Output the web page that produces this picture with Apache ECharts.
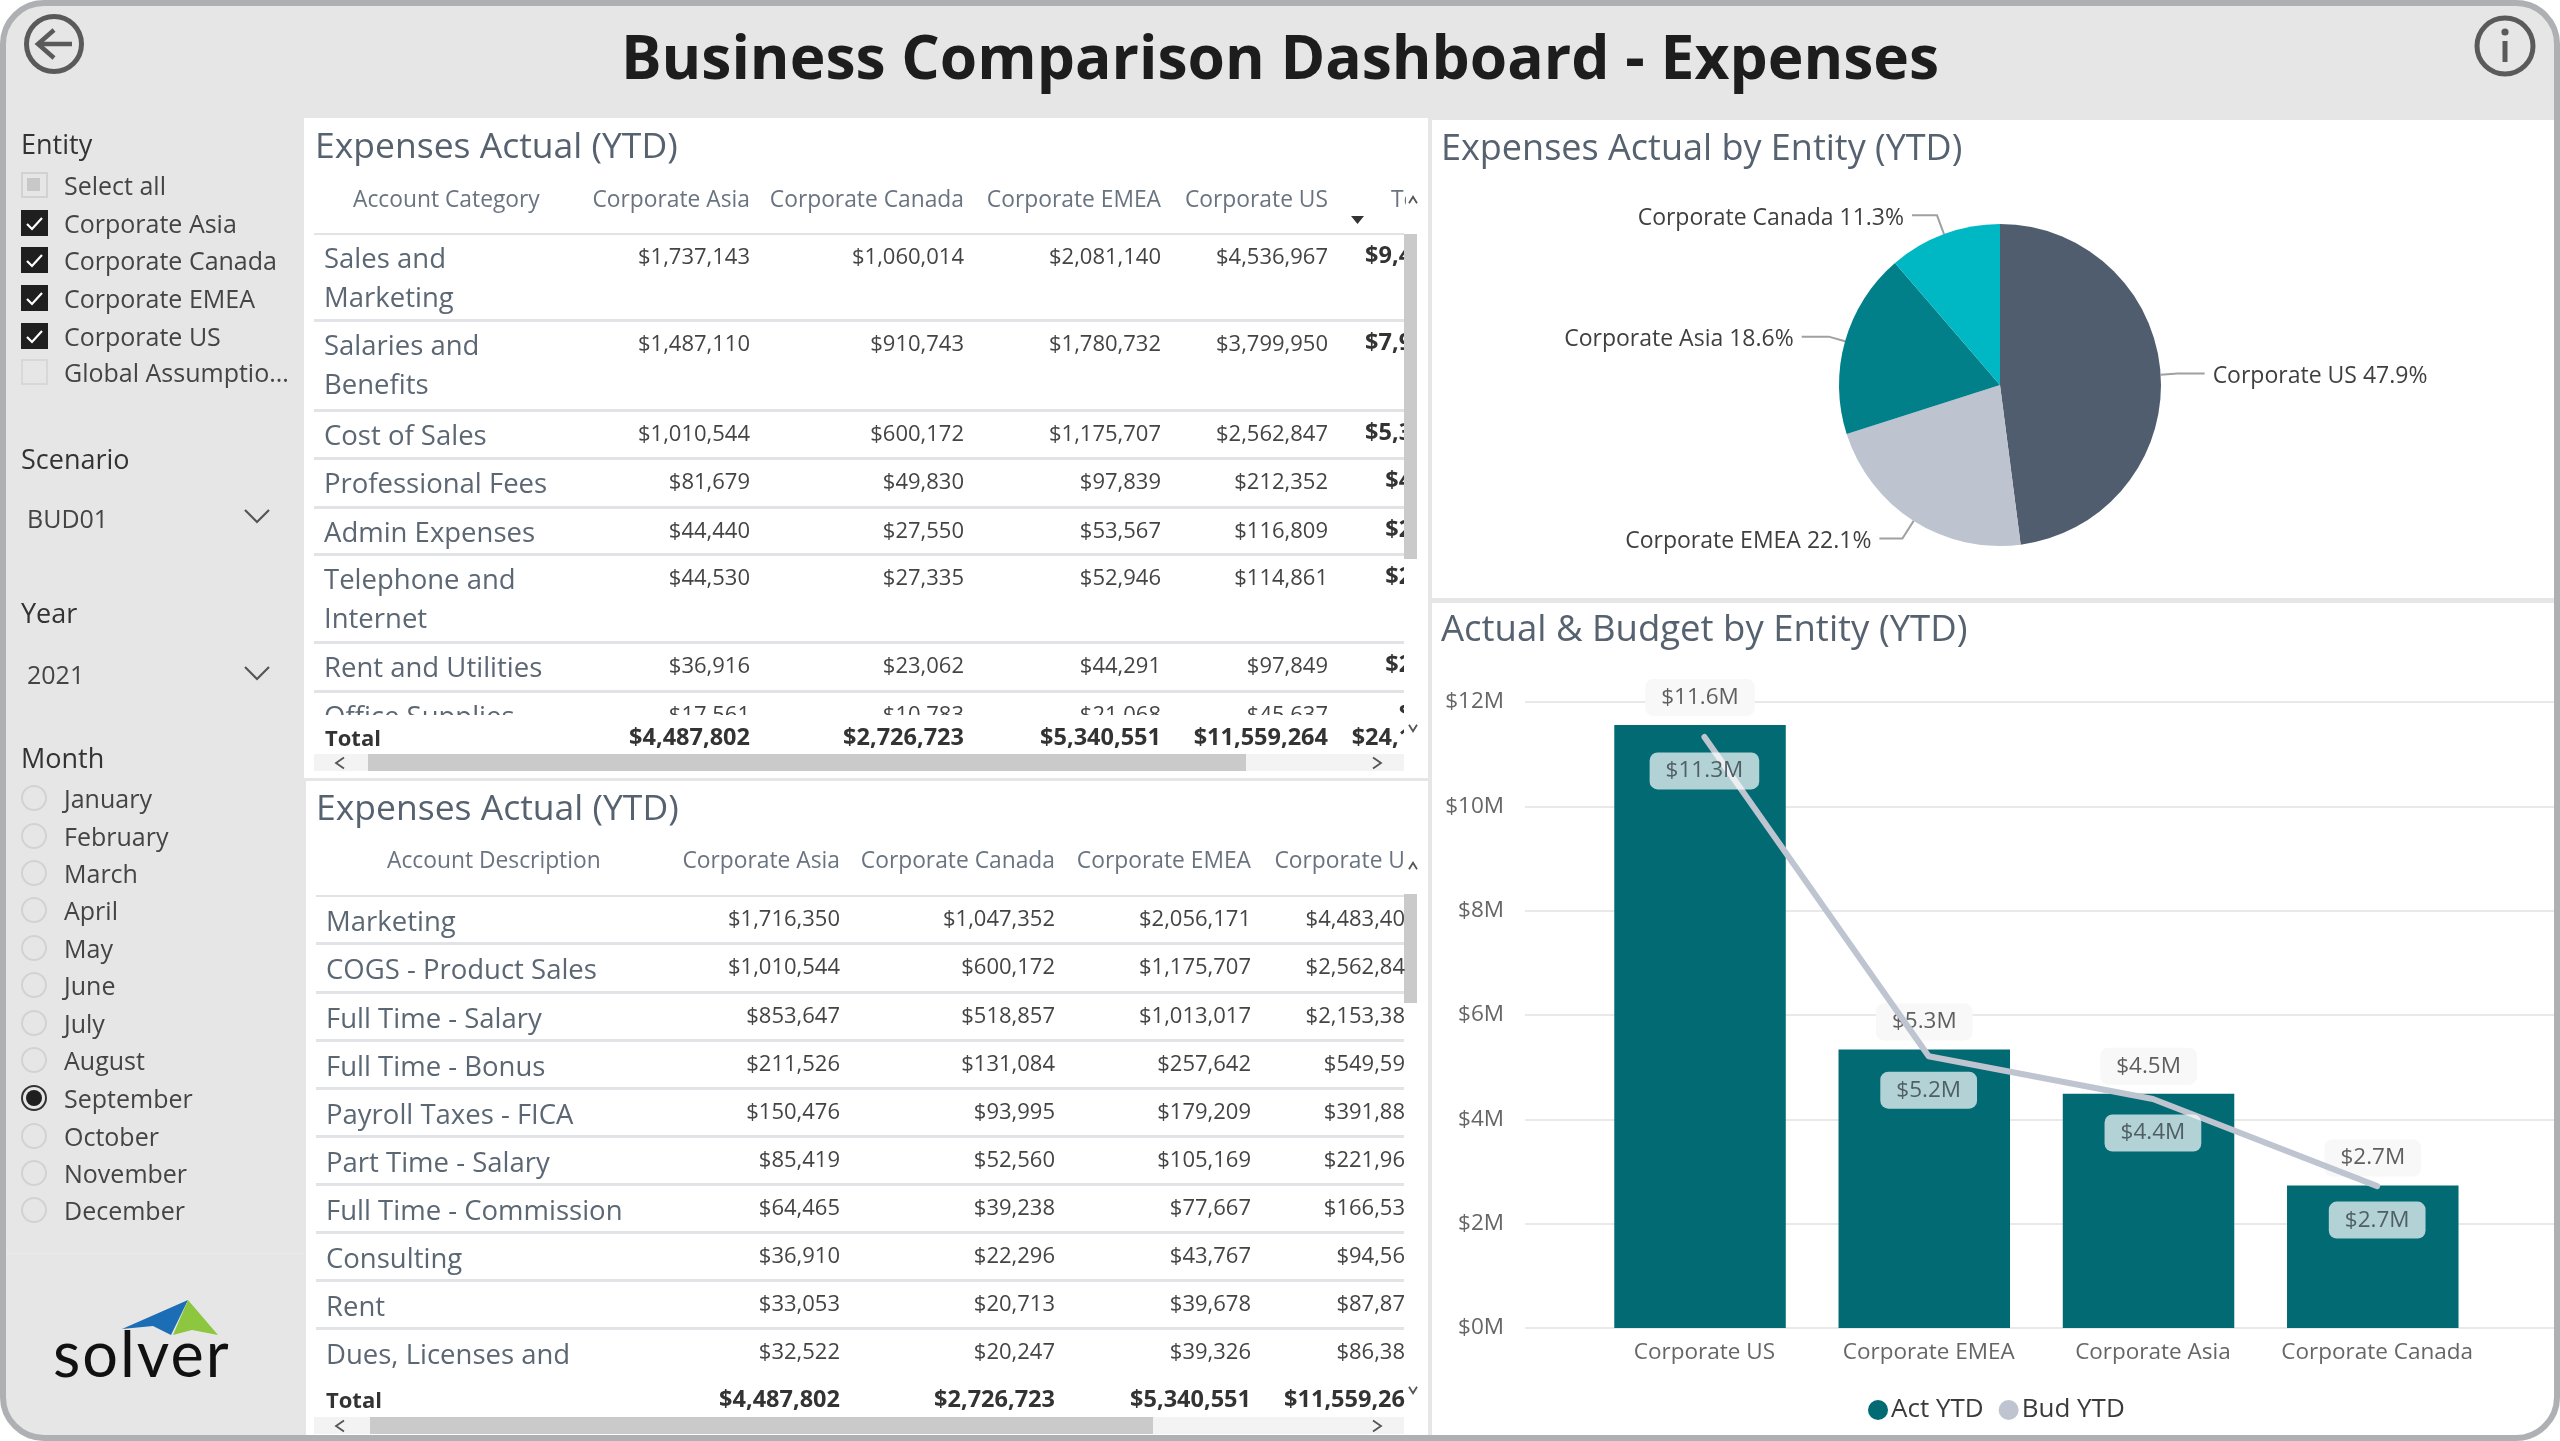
<!DOCTYPE html>
<html>
<head>
<meta charset="utf-8">
<title>Business Comparison Dashboard - Expenses</title>
<script src="https://cdn.jsdelivr.net/npm/echarts@6/dist/echarts.min.js"></script>
<style>
html, body { margin: 0; padding: 0; width: 2560px; height: 1441px; overflow: hidden; background: #fff; }
body, div { font-family: "Open Sans", "Noto Sans", sans-serif; }
#page { position: absolute; left: 0; top: 0; width: 2560px; height: 1441px; background: #e6e6e6; overflow: hidden; }
.panel { position: absolute; background: #fff; }
.layer { position: absolute; left: 0; top: 0; width: 2560px; height: 1441px; }
.t { position: absolute; white-space: pre; line-height: 1; transform: translateY(-50%); }
.r { transform: translate(-100%, -50%); }
.box { position: absolute; }
.side { color: #444; font-size: 25px; }
.head { color: #333; font-size: 27px; }
.ptitle { color: #56626f; font-size: 35.5px; }
.colh { color: #6a7480; font-size: 22.8px; }
.lab { color: #5c6774; font-size: 27.5px; }
.val { color: #444; font-size: 22px; }
.tot { color: #333; font-size: 23.5px; font-weight: 700; }
#frame { position: absolute; left: 0; top: 0; width: 2548px; height: 1429px; border: 6px solid #aeb0b4; border-radius: 44px; box-shadow: 0 0 0 60px #fff; pointer-events: none; }
svg { position: absolute; left: 0; top: 0; }
</style>
</head>
<body>
<div id="page">
  <div class="panel" style="left:304px;top:118px;width:1124px;height:660px"></div>
  <div class="panel" style="left:306px;top:781px;width:1122px;height:655px"></div>
  <div class="panel" style="left:1432px;top:120px;width:1122px;height:478px"></div>
  <div class="panel" style="left:1432px;top:603px;width:1122px;height:832px"></div>
  <div id="pieChart" style="position:absolute;left:1432px;top:120px;width:1122px;height:478px"></div>
  <div id="barChart" style="position:absolute;left:1432px;top:603px;width:1122px;height:832px"></div>
  <div id="frame"></div>
</div>
<script>
var entities = ['Select all', 'Corporate Asia', 'Corporate Canada', 'Corporate EMEA', 'Corporate US', 'Global Assumptio...'];
var months = ['January', 'February', 'March', 'April', 'May', 'June', 'July', 'August', 'September', 'October', 'November', 'December'];

var columns = ['Corporate Asia', 'Corporate Canada', 'Corporate EMEA', 'Corporate US'];
var categories = ['Sales and\nMarketing', 'Salaries and\nBenefits', 'Cost of Sales', 'Professional Fees', 'Admin Expenses', 'Telephone and\nInternet', 'Rent and Utilities', 'Office Supplies'];
var catAsia = [1737143, 1487110, 1010544, 81679, 44440, 44530, 36916, 17561];
var catCanada = [1060014, 910743, 600172, 49830, 27550, 27335, 23062, 10783];
var catEmea = [2081140, 1780732, 1175707, 97839, 53567, 52946, 44291, 21068];
var catUs = [4536967, 3799950, 2562847, 212352, 116809, 114861, 97849, 45637];
var catTotal = [9415264, 7978535, 5349270, 441700, 242366, 239672, 202118, 95049];
var grandTotals = [4487802, 2726723, 5340551, 11559264, 24114340];

var descriptions = ['Marketing', 'COGS - Product Sales', 'Full Time - Salary', 'Full Time - Bonus', 'Payroll Taxes - FICA', 'Part Time - Salary', 'Full Time - Commission', 'Consulting', 'Rent', 'Dues, Licenses and'];
var descAsia = [1716350, 1010544, 853647, 211526, 150476, 85419, 64465, 36910, 33053, 32522];
var descCanada = [1047352, 600172, 518857, 131084, 93995, 52560, 39238, 22296, 20713, 20247];
var descEmea = [2056171, 1175707, 1013017, 257642, 179209, 105169, 77667, 43767, 39678, 39326];
// last digit is cut off by the table edge in the picture
var descUsCut = ['$4,483,40', '$2,562,84', '$2,153,38', '$549,59', '$391,88', '$221,96', '$166,53', '$94,56', '$87,87', '$86,38'];

var pieNames = ['Corporate US', 'Corporate EMEA', 'Corporate Asia', 'Corporate Canada'];
var pieShares = [47.9, 22.1, 18.6, 11.3];
var pieColors = ['#4f5d6e', '#bdc3cf', '#01808a', '#00b8c4'];

var barNames = ['Corporate US', 'Corporate EMEA', 'Corporate Asia', 'Corporate Canada'];
var actYtd = [11.56, 5.34, 4.49, 2.73];
var budYtd = [11.33, 5.21, 4.39, 2.72];

var page = document.getElementById('page');
var frame = document.getElementById('frame');

function money(n) {
    return '$' + n.toLocaleString('en-US');
}

function addLayer(x0, y0, x1, y1) {
    var d = document.createElement('div');
    d.className = 'layer';
    d.style.clipPath = 'polygon(' + x0 + 'px ' + y0 + 'px,' + x1 + 'px ' + y0 + 'px,' + x1 + 'px ' + y1 + 'px,' + x0 + 'px ' + y1 + 'px)';
    page.insertBefore(d, frame);
    return d;
}

// x is the left edge, or the right edge when right is true; y is the text middle
function text(parent, x, y, str, cls, right) {
    var d = document.createElement('div');
    d.className = 't ' + cls + (right ? ' r' : '');
    d.style.left = x + 'px';
    d.style.top = y + 'px';
    d.textContent = str;
    parent.appendChild(d);
    return d;
}

function box(parent, x, y, w, h, css) {
    var d = document.createElement('div');
    d.className = 'box';
    d.style.cssText = 'left:' + x + 'px;top:' + y + 'px;width:' + w + 'px;height:' + h + 'px;' + css;
    parent.appendChild(d);
    return d;
}

function svg(parent, html) {
    var d = document.createElement('div');
    d.innerHTML = '<svg width="2560" height="1441" xmlns="http://www.w3.org/2000/svg">' + html + '</svg>';
    parent.appendChild(d);
}

function chevron(x, y, dir, size) {
    var s = size || 5;
    var pts;
    if (dir === 'l') pts = [x + s, y - s * 1.4, x - s, y, x + s, y + s * 1.4];
    if (dir === 'r') pts = [x - s, y - s * 1.4, x + s, y, x - s, y + s * 1.4];
    if (dir === 'u') pts = [x - s, y + s * 0.8, x, y - s * 0.8, x + s, y + s * 0.8];
    if (dir === 'd') pts = [x - s, y - s * 0.8, x, y + s * 0.8, x + s, y - s * 0.8];
    return '<polyline points="' + pts.join(' ') + '" fill="none" stroke="#555" stroke-width="1.8"/>';
}

function drawSidebar() {
    var L = addLayer(0, 0, 2560, 1441);
    text(L, 1280, 55.5, 'Business Comparison Dashboard - Expenses', '', false).style.cssText += 'transform:translate(-50%,-50%);font-size:60.5px;font-weight:700;color:#1d1d1d';

    text(L, 21, 143, 'Entity', 'head');
    var entityY = [185, 223, 260, 298, 336, 372];
    entities.forEach(function(name, i) {
        text(L, 64, entityY[i], name, 'side');
        var top = entityY[i] - 13;
        if (i === 0) {
            box(L, 21, top, 23, 22, 'border:2px solid #d2d2d2');
            box(L, 27, top + 6, 13, 13, 'background:#c8c8c8');
        } else if (i === 5) {
            box(L, 21, top, 23, 22, 'border:2px solid #d8d8d8');
        } else {
            box(L, 21, top, 27, 26, 'background:#1f1f1f');
            svg(L, '<polyline points="27,' + (top + 14) + ' 32,' + (top + 19) + ' 42,' + (top + 8) + '" fill="none" stroke="#fff" stroke-width="2.2"/>');
        }
    });

    text(L, 21, 458, 'Scenario', 'head');
    text(L, 27, 518, 'BUD01', 'side');
    text(L, 21, 612, 'Year', 'head');
    text(L, 27, 674, '2021', 'side');
    svg(L, '<polyline points="245,510 257,522 269,510" fill="none" stroke="#555" stroke-width="2.2"/>' +
        '<polyline points="245,667 257,679 269,667" fill="none" stroke="#555" stroke-width="2.2"/>');

    text(L, 21, 757, 'Month', 'head');
    var monthY = [798, 836, 873, 910, 948, 985, 1023, 1060, 1098, 1136, 1173, 1210];
    var rings = '';
    months.forEach(function(name, i) {
        text(L, 64, monthY[i], name, 'side');
        if (name === 'September') {
            rings += '<circle cx="34" cy="' + monthY[i] + '" r="12" fill="none" stroke="#333" stroke-width="2"/><circle cx="34" cy="' + monthY[i] + '" r="8" fill="#1f1f1f"/>';
        } else {
            rings += '<circle cx="34" cy="' + monthY[i] + '" r="12" fill="none" stroke="#d2d2d2" stroke-width="2"/>';
        }
    });
    svg(L, rings);
    box(L, 6, 1253, 298, 1, 'background:#ebebeb');

    // logo and the two round buttons
    svg(L, '<polygon points="122,1329 188,1300 171,1335 153,1326" fill="#1b6db5"/>' +
        '<polygon points="188,1300 218,1335 192,1330 173,1335" fill="#8dc63f"/>' +
        '<circle cx="54" cy="44" r="27.5" fill="none" stroke="#5a5a5a" stroke-width="5"/>' +
        '<polyline points="54,30 38,44 54,58" fill="none" stroke="#5a5a5a" stroke-width="4.5"/>' +
        '<line x1="38" y1="44" x2="72" y2="44" stroke="#5a5a5a" stroke-width="4.5"/>' +
        '<circle cx="2505" cy="46" r="28" fill="none" stroke="#5a5a5a" stroke-width="5"/>' +
        '<circle cx="2505" cy="32" r="3.6" fill="#5a5a5a"/>' +
        '<line x1="2505" y1="41" x2="2505" y2="62" stroke="#5a5a5a" stroke-width="5"/>');
    var logo = text(L, 53, 1352, 'solver', '');
    logo.style.fontSize = '63px';
    logo.style.color = '#111';
    logo.style.letterSpacing = '2px';
    logo.style.fontFamily = 'Lato, "Open Sans", sans-serif';
}

function drawScrollbars(L, vTop, vBottom, upY, downY, hY, hLeft, hRight) {
    box(L, 1404, vTop, 13, vBottom - vTop, 'background:#cacaca');
    box(L, 314, hY, 1090, 17, 'background:#f3f3f3');
    box(L, hLeft, hY, hRight - hLeft, 17, 'background:#cacaca');
    svg(L, chevron(1413, upY, 'u', 4) + chevron(1413, downY, 'd', 4) + chevron(340, hY + 9, 'l', 4) + chevron(1377, hY + 9, 'r', 4));
}

function drawCategoryTable() {
    var top = addLayer(0, 0, 2560, 1441);
    text(top, 315, 145, 'Expenses Actual (YTD)', 'ptitle');
    var rowTops = [233, 320, 410, 458, 507, 554, 642, 691];
    var right = [750, 964, 1161, 1328, 1486];
    var head = addLayer(306, 118, 1406, 233);
    text(head, 353, 199, 'Account Category', 'colh');
    columns.forEach(function(c, i) { text(head, right[i], 199, c, 'colh', true); });
    text(head, 1391, 199, 'Total', 'colh');
    svg(top, '<polygon points="1351,216 1364,216 1357.5,224" fill="#333"/>');

    var body = addLayer(306, 233, 1404, 715);
    rowTops.forEach(function(y, i) {
        box(body, 314, y - 1, 1090, 3, 'background:#e2e3e7');
        var parts = categories[i].split('\n');
        parts.forEach(function(p, k) { text(body, 324, y + 25 + k * 39, p, 'lab'); });
        text(body, right[0], y + 21.5, money(catAsia[i]), 'val', true);
        text(body, right[1], y + 21.5, money(catCanada[i]), 'val', true);
        text(body, right[2], y + 21.5, money(catEmea[i]), 'val', true);
        text(body, right[3], y + 21.5, money(catUs[i]), 'val', true);
        text(body, right[4], y + 21.5, money(catTotal[i]), 'tot', true);
    });

    var foot = addLayer(306, 716, 1404, 780);
    text(foot, 325, 737, 'Total', 'tot').style.fontSize = '22px';
    grandTotals.forEach(function(v, i) { text(foot, right[i], 737, money(v), 'tot', true); });
    drawScrollbars(top, 234, 559, 200, 728, 754, 368, 1246);
}

function drawDescriptionTable() {
    var top = addLayer(0, 0, 2560, 1441);
    text(top, 316, 807, 'Expenses Actual (YTD)', 'ptitle');
    var rowTops = [895, 943, 992, 1040, 1088, 1136, 1184, 1232, 1280, 1328];
    var right = [840, 1055, 1251];
    var head = addLayer(306, 781, 1405, 895);
    text(head, 387, 860, 'Account Description', 'colh');
    text(head, right[0], 860, columns[0], 'colh', true);
    text(head, right[1], 860, columns[1], 'colh', true);
    text(head, right[2], 860, columns[2], 'colh', true);
    text(head, 1405, 860, 'Corporate U', 'colh', true);

    var body = addLayer(306, 895, 1405, 1380);
    rowTops.forEach(function(y, i) {
        box(body, 316, y - 1, 1088, 3, 'background:#e2e3e7');
        text(body, 326, y + 26, descriptions[i], 'lab');
        text(body, right[0], y + 21.5, money(descAsia[i]), 'val', true);
        text(body, right[1], y + 21.5, money(descCanada[i]), 'val', true);
        text(body, right[2], y + 21.5, money(descEmea[i]), 'val', true);
        text(body, 1405, y + 21.5, descUsCut[i], 'val', true);
    });

    var foot = addLayer(306, 1380, 1405, 1417);
    text(foot, 326, 1399, 'Total', 'tot').style.fontSize = '22px';
    text(foot, right[0], 1399, money(grandTotals[0]), 'tot', true);
    text(foot, right[1], 1399, money(grandTotals[1]), 'tot', true);
    text(foot, right[2], 1399, money(grandTotals[2]), 'tot', true);
    text(foot, 1405, 1399, '$11,559,26', 'tot', true);
    drawScrollbars(top, 894, 1003, 866, 1390, 1417, 370, 1153);
}

function setPie(target) {
    // leader lengths per slice: US, EMEA, Asia, Canada
    var leaderIn = [17, 21, 17, 20];
    var leaderOut = [27, 23, 27, 25];
    var option = {
        animation: false,
        textStyle: { fontFamily: '"Open Sans", sans-serif' },
        title: {
            text: 'Expenses Actual by Entity (YTD)',
            left: 4,
            top: 4,
            textStyle: { color: '#56626f', fontSize: 36, fontWeight: 'normal', lineHeight: 42 }
        },
        color: pieColors,
        series: [{
            type: 'pie',
            center: [568, 265],
            radius: [0, 161],
            startAngle: 90,
            clockwise: true,
            label: {
                show: true,
                position: 'outside',
                formatter: '{b} {c}%',
                color: '#3f3f3f',
                fontSize: 23,
                distanceToLabelLine: 8
            },
            labelLayout: { dy: 3 },
            labelLine: {
                show: true,
                lineStyle: { color: '#a0a0a0', width: 2 }
            },
            data: pieNames.map(function(n, i) {
                return { name: n, value: pieShares[i], labelLine: { length: leaderIn[i], length2: leaderOut[i] } };
            })
        }]
    };
    target.setOption(option);
}

function setBars(target) {
    var blank = { show: false };
    var option = {
        animation: false,
        textStyle: { fontFamily: '"Open Sans", sans-serif' },
        title: {
            text: 'Actual & Budget by Entity (YTD)',
            left: 4,
            top: 2,
            textStyle: { color: '#56626f', fontSize: 36.5, fontWeight: 'normal', lineHeight: 42 }
        },
        legend: {
            left: 431,
            top: 789,
            itemWidth: 20,
            itemHeight: 20,
            itemGap: 15,
            icon: 'circle',
            textStyle: { color: '#3a3a3a', fontSize: 26, padding: [0, 0, 0, -2] },
            data: ['Act YTD', 'Bud YTD']
        },
        grid: [
            { left: 93, right: 0, top: 99, height: 626, outerBoundsMode: 'none' },
            { left: 155.9, width: 897, top: 99, height: 626, outerBoundsMode: 'none' },
            { left: 160.3, width: 897, top: 99, height: 626, outerBoundsMode: 'none' }
        ],
        xAxis: [
            { gridIndex: 0, type: 'value', min: 0, max: 1, show: false },
            { gridIndex: 1, type: 'category', data: barNames, show: false },
            {
                gridIndex: 2,
                type: 'category',
                data: barNames,
                axisLine: blank,
                axisTick: blank,
                axisLabel: { color: '#666', fontSize: 22.5, margin: 13, interval: 0 }
            }
        ],
        yAxis: [
            {
                gridIndex: 0,
                type: 'value',
                min: 0,
                max: 12,
                interval: 2,
                axisLine: blank,
                axisTick: blank,
                axisLabel: {
                    color: '#666',
                    fontSize: 22.5,
                    margin: 21,
                    formatter: function(v) { return '$' + v + 'M'; }
                },
                splitLine: { show: true, lineStyle: { color: '#e9e9e9', width: 2 } }
            },
            { gridIndex: 1, type: 'value', min: 0, max: 12, interval: 2, show: false, splitLine: blank },
            { gridIndex: 2, type: 'value', min: 0, max: 12, interval: 2, show: false, splitLine: blank }
        ],
        series: [{
            name: 'Act YTD',
            type: 'bar',
            xAxisIndex: 1,
            yAxisIndex: 1,
            barWidth: 171.5,
            itemStyle: { color: '#016a73' },
            label: {
                show: true,
                position: 'top',
                distance: 9,
                color: '#5f5f5f',
                fontSize: 22.5,
                backgroundColor: '#f8f8f9',
                borderRadius: 8,
                padding: [7, 16],
                formatter: function(p) { return '$' + p.value.toFixed(1) + 'M'; }
            },
            data: actYtd
        }, {
            name: 'Bud YTD',
            type: 'line',
            xAxisIndex: 2,
            yAxisIndex: 2,
            symbol: 'circle',
            symbolSize: 1,
            showAllSymbol: true,
            itemStyle: { color: '#bfc5d0' },
            lineStyle: { color: '#bfc5d0', width: 6, cap: 'round', join: 'round' },
            label: {
                show: true,
                position: 'bottom',
                distance: 15,
                color: '#4f5f63',
                fontSize: 22.5,
                backgroundColor: 'rgba(255,255,255,0.7)',
                borderRadius: 8,
                padding: [7, 16],
                formatter: function(p) { return '$' + p.value.toFixed(1) + 'M'; }
            },
            data: budYtd
        }]
    };
    target.setOption(option);
}

drawSidebar();
drawCategoryTable();
drawDescriptionTable();
setPie(echarts.init(document.getElementById('pieChart')));
setBars(echarts.init(document.getElementById('barChart')));
</script>
</body>
</html>
